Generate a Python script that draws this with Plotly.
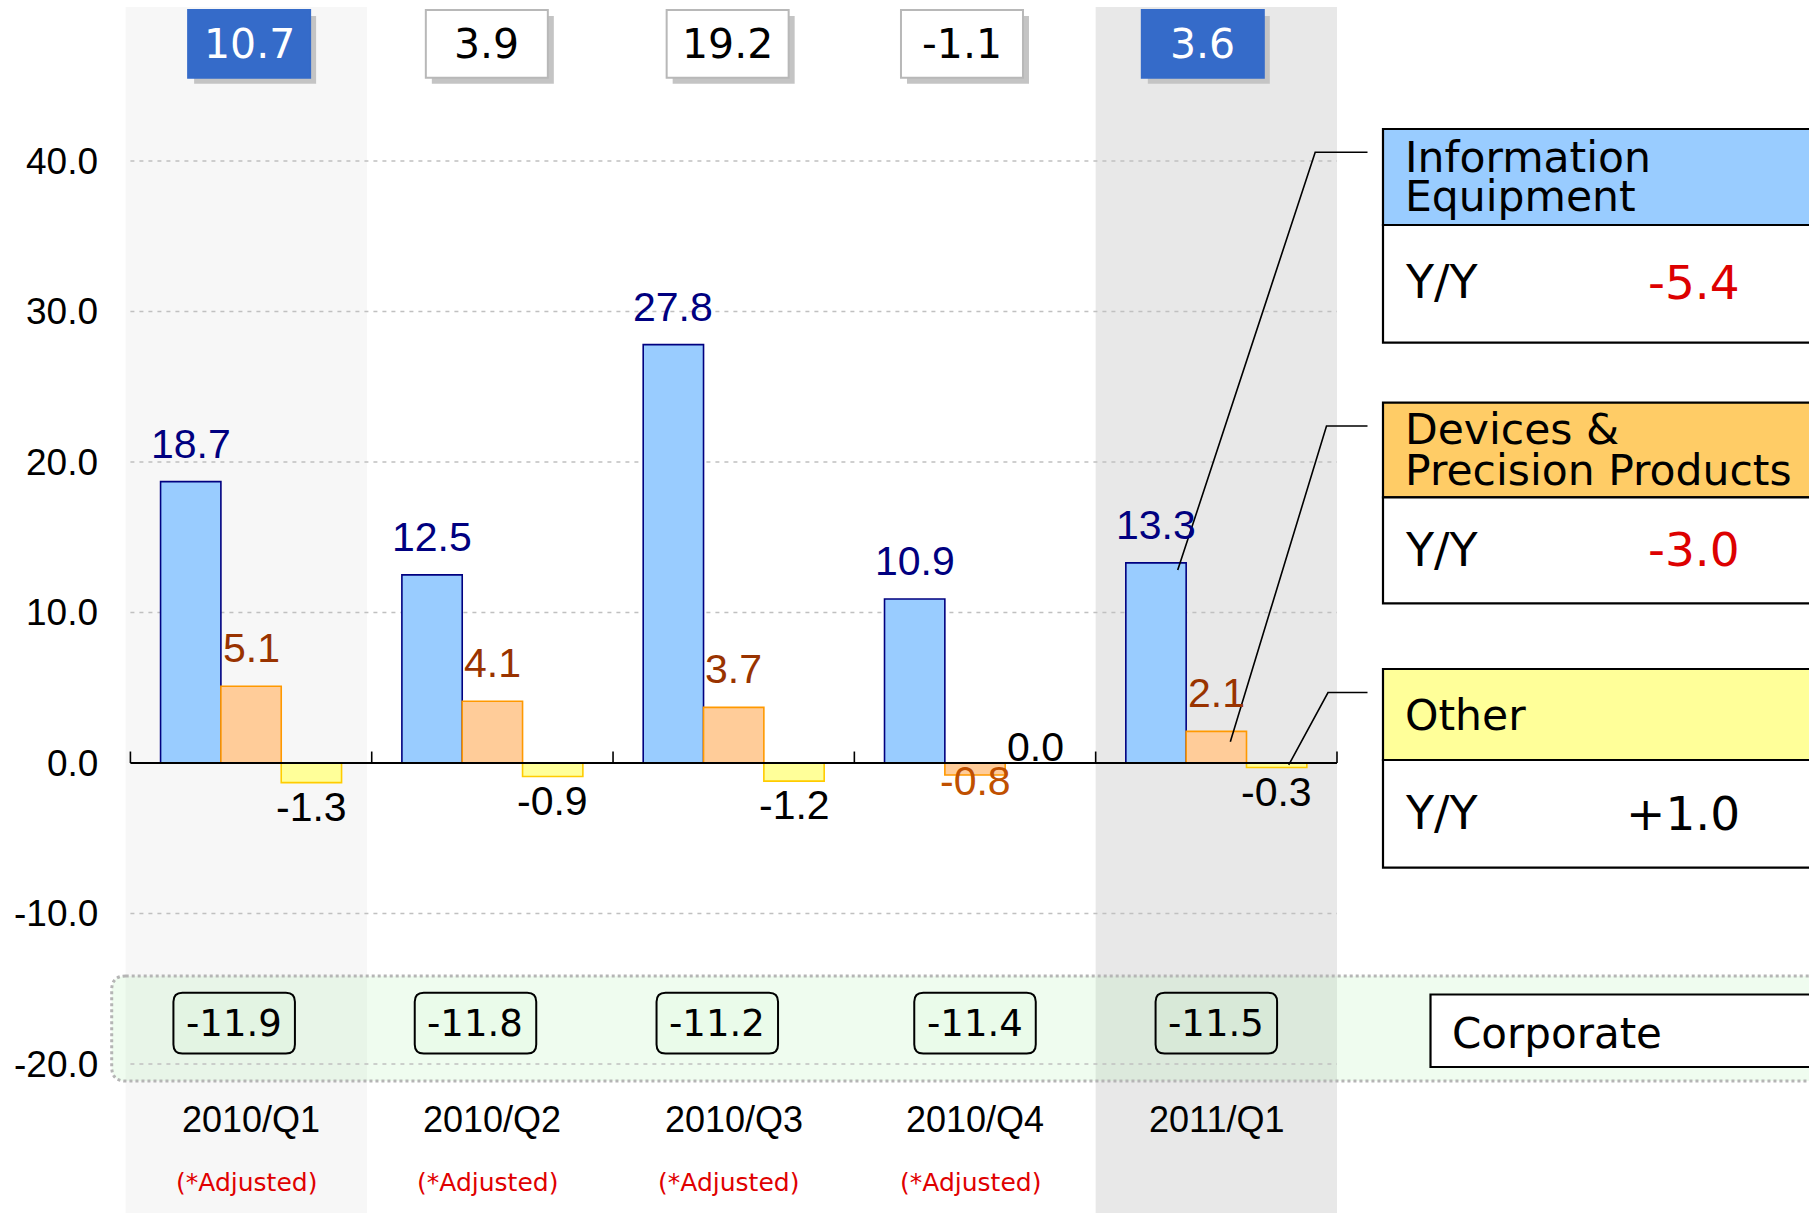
import plotly.graph_objects as go

# ---------------- data ----------------
quarters = ["2010/Q1", "2010/Q2", "2010/Q3", "2010/Q4", "2011/Q1"]
info_equipment = [18.7, 12.5, 27.8, 10.9, 13.3]
devices_precision = [5.1, 4.1, 3.7, -0.8, 2.1]
other = [-1.3, -0.9, -1.2, 0.0, -0.3]
corporate = [-11.9, -11.8, -11.2, -11.4, -11.5]
total = [10.7, 3.9, 19.2, -1.1, 3.6]
adjusted = [True, True, True, True, False]
highlighted = ["2010/Q1", "2011/Q1"]
segment_lines = [["Information", "Equipment"], ["Devices &", "Precision Products"], ["Other"]]
segment_yy = [-5.4, -3.0, 1.0]
y_ticks = [40, 30, 20, 10, 0, -10, -20]

# ---------------- geometry ----------------
W, H = 1809, 1213
X_RANGE = [-1.0404, 6.456]
Y_RANGE = [-29.9, 50.7]
XU = W / (X_RANGE[1] - X_RANGE[0])   # px per x unit
YU = H / (Y_RANGE[1] - Y_RANGE[0])   # px per y unit


def px_x(p):
    return X_RANGE[0] + p / XU


def px_y(p):
    return Y_RANGE[1] - p / YU


ARIAL = "Liberation Sans, Arial, sans-serif"
GOTH = "DejaVu Sans, Verdana, sans-serif"
n = len(quarters)
xs = list(range(n))

fig = go.Figure()

series = [
    ("Information Equipment", info_equipment, "#99ccff", "#000080", "#000080"),
    ("Devices & Precision Products", devices_precision, "#ffcc99", "#ff9900", "#993300"),
    ("Other", other, "#ffff99", "#ffcc00", "#000000"),
]
offsets = [-0.375, -0.125, 0.125]
for (name, vals, fill, line, lab), off in zip(series, offsets):
    fig.add_trace(go.Bar(
        x=xs, y=vals, name=name, width=0.25, offset=off,
        marker=dict(color=fill, line=dict(color=line, width=1.6)),
        showlegend=False, hoverinfo="skip"))

shapes = []
annotations = []

# background bands
band_top = px_y(7)
for q in highlighted:
    i = quarters.index(q)
    if i == 0:
        x0, x1, col = i - 0.52, i + 0.48, "#f7f7f7"
    else:
        x0, x1, col = i - 0.5, i + 0.5, "#e8e8e8"
    shapes.append(dict(type="rect", xref="x", yref="y", x0=x0, x1=x1, y0=Y_RANGE[0] - 1, y1=band_top,
                       fillcolor=col, line=dict(width=0), layer="below"))


def rrect_path(x0, x1, y0, y1, rpx):
    rx = rpx / XU
    ry = rpx / YU
    return (f"M {x0 + rx},{y1} L {x1 - rx},{y1} Q {x1},{y1} {x1},{y1 - ry} "
            f"L {x1},{y0 + ry} Q {x1},{y0} {x1 - rx},{y0} L {x0 + rx},{y0} "
            f"Q {x0},{y0} {x0},{y0 + ry} L {x0},{y1 - ry} Q {x0},{y1} {x0 + rx},{y1} Z")


# corporate region
shapes.append(dict(type="path", xref="x", yref="y",
                   path=rrect_path(px_x(111.7), px_x(1840), px_y(1081), px_y(976), 14),
                   fillcolor="rgba(175,240,175,0.2)", line=dict(color="#b5b5b5", width=3, dash="dot"),
                   layer="below"))

# gridlines
for t in y_ticks:
    if t == 0:
        continue
    shapes.append(dict(type="line", xref="x", yref="y", x0=-0.5, x1=n - 0.5, y0=t, y1=t,
                       line=dict(color="#c0c0c0", width=1.5, dash="4px,5px"), layer="below"))

# axis line + ticks
shapes.append(dict(type="line", xref="x", yref="y", x0=-0.5, x1=n - 0.5, y0=0, y1=0,
                   line=dict(color="#000000", width=2.2)))
for i in range(n + 1):
    shapes.append(dict(type="line", xref="x", yref="y", x0=i - 0.5, x1=i - 0.5, y0=0, y1=11.5 / YU,
                       line=dict(color="#000000", width=1.6)))

# y tick labels
for t in y_ticks:
    annotations.append(dict(x=px_x(100), y=t, xref="x", yref="y", text=f"{t:.1f}", showarrow=False,
                            xanchor="right", yanchor="middle",
                            font=dict(family=ARIAL, size=37, color="#000000")))

# bar value labels
for (name, vals, fill, line, lab), off in zip(series, offsets):
    for i, v in enumerate(vals):
        xc = i + off + 0.125
        if v >= 0:
            ysh = 38 if name != "Other" else 16
        else:
            ysh = -24 if name == "Other" else -6
        col = lab
        if name == "Devices & Precision Products" and v < 0:
            col = "#c05000"
        annotations.append(dict(x=xc, y=v, xref="x", yref="y", text=f"{v:.1f}", showarrow=False,
                                xanchor="center", yanchor="middle", yshift=ysh,
                                font=dict(family=ARIAL, size=41, color=col)))

# top total boxes
top_nudge = [-0.008, -0.023, -0.025, -0.054, -0.056]
bw = 122 / XU
bt, bb = px_y(10), px_y(77.7)
sdx, sdy = 6 / XU, 6 / YU
for i, v in enumerate(total):
    xc = i + top_nudge[i]
    hl = quarters[i] in highlighted
    shapes.append(dict(type="rect", xref="x", yref="y", x0=xc - bw / 2 + sdx, x1=xc + bw / 2 + sdx,
                       y0=bb - sdy, y1=bt - sdy, fillcolor="#c4c4c4", line=dict(width=0)))
    shapes.append(dict(type="rect", xref="x", yref="y", x0=xc - bw / 2, x1=xc + bw / 2, y0=bb, y1=bt,
                       fillcolor="#356bc9" if hl else "#ffffff",
                       line=dict(color="#356bc9" if hl else "#b8b8b8", width=2)))
    annotations.append(dict(x=xc, y=(bt + bb) / 2, xref="x", yref="y", text=f"{v:.1f}", showarrow=False,
                            xanchor="center", yanchor="middle",
                            font=dict(family=GOTH, size=41, color="#ffffff" if hl else "#000000")))

# corporate value boxes
corp_nudge = [-0.07, -0.07, -0.068, 0.0, 0.0]
cw = 121.5 / XU
ct, cb = px_y(992.7), px_y(1053.5)
for i, v in enumerate(corporate):
    xc = i + corp_nudge[i]
    shapes.append(dict(type="path", xref="x", yref="y", path=rrect_path(xc - cw / 2, xc + cw / 2, cb, ct, 9),
                       fillcolor="rgba(175,240,175,0.08)", line=dict(color="#000000", width=2)))
    annotations.append(dict(x=xc, y=(ct + cb) / 2, xref="x", yref="y", text=f"{v:.1f}", showarrow=False,
                            xanchor="center", yanchor="middle",
                            font=dict(family=GOTH, size=37, color="#000000")))

# category labels
for i, q in enumerate(quarters):
    annotations.append(dict(x=i, y=px_y(1119), xref="x", yref="y", text=q, showarrow=False,
                            xanchor="center", yanchor="middle",
                            font=dict(family=ARIAL, size=36, color="#000000")))
    if adjusted[i]:
        annotations.append(dict(x=i - 0.02, y=px_y(1182), xref="x", yref="y", text="(*Adjusted)",
                                showarrow=False, xanchor="center", yanchor="middle",
                                font=dict(family=GOTH, size=25, color="#e00000")))

# segment legend boxes
box_x0 = px_x(1383)
box_x1 = px_x(1840)
hdr_fill = ["#99ccff", "#ffcc66", "#ffff99"]
box_rows = [(129, 225, 342.6), (402.6, 497.3, 603.4), (669, 760, 867.6)]
hdr_text_y = [[157, 196], [429, 470], [715]]
yy_y = [282.4, 549.5, 813]
for k in range(3):
    t, m, b = box_rows[k]
    shapes.append(dict(type="rect", xref="x", yref="y", x0=box_x0, x1=box_x1, y0=px_y(m), y1=px_y(t),
                       fillcolor=hdr_fill[k], line=dict(color="#000000", width=2.2)))
    shapes.append(dict(type="rect", xref="x", yref="y", x0=box_x0, x1=box_x1, y0=px_y(b), y1=px_y(m),
                       fillcolor="#ffffff", line=dict(color="#000000", width=2.2)))
    for line_txt, ty in zip(segment_lines[k], hdr_text_y[k]):
        annotations.append(dict(x=px_x(1403), y=px_y(ty), xref="x", yref="y", text=line_txt, showarrow=False,
                                xanchor="left", yanchor="middle",
                                font=dict(family=GOTH, size=42.5, color="#000000")))
    annotations.append(dict(x=px_x(1403), y=px_y(yy_y[k]), xref="x", yref="y", text="Y/Y", showarrow=False,
                            xanchor="left", yanchor="middle",
                            font=dict(family=GOTH, size=46, color="#000000")))
    v = segment_yy[k]
    annotations.append(dict(x=px_x(1742), y=px_y(yy_y[k]), xref="x", yref="y", text=f"{v:+.1f}",
                            showarrow=False, xanchor="right", yanchor="middle",
                            font=dict(family=GOTH, size=47, color="#dd0000" if v < 0 else "#000000")))

# leader lines from 2011/Q1 bars to legend boxes
last = n - 1
leaders = [
    (last - 0.25 + 0.09, info_equipment[last] - 0.48, 1315.2, 152.3),
    (last + 0.058, devices_precision[last] - 0.68, 1326.5, 426.0),
    (last + 0.25 + 0.05, other[last] + 0.17, 1328.0, 692.5),
]
for x0, y0, cpx, cpy in leaders:
    shapes.append(dict(type="path", xref="x", yref="y",
                       path=f"M {x0},{y0} L {px_x(cpx)},{px_y(cpy)} L {px_x(1367.5)},{px_y(cpy)}",
                       line=dict(color="#000000", width=1.6)))

# corporate label box
shapes.append(dict(type="rect", xref="x", yref="y", x0=px_x(1430.5), x1=px_x(1840),
                   y0=px_y(1067), y1=px_y(994.5), fillcolor="#ffffff", line=dict(color="#000000", width=2.2)))
annotations.append(dict(x=px_x(1450), y=px_y(1033), xref="x", yref="y", text="Corporate", showarrow=False,
                        xanchor="left", yanchor="middle", font=dict(family=GOTH, size=42, color="#000000")))

fig.update_layout(
    width=W, height=H,
    margin=dict(l=0, r=0, t=0, b=0),
    paper_bgcolor="#ffffff", plot_bgcolor="rgba(0,0,0,0)",
    barmode="overlay",
    xaxis=dict(range=X_RANGE, visible=False, fixedrange=True),
    yaxis=dict(range=Y_RANGE, visible=False, fixedrange=True),
    shapes=shapes, annotations=annotations, showlegend=False,
)

fig.write_html("out.html", config={"displayModeBar": False},
               post_script="document.body.style.margin='0';document.body.style.overflow='hidden';")
